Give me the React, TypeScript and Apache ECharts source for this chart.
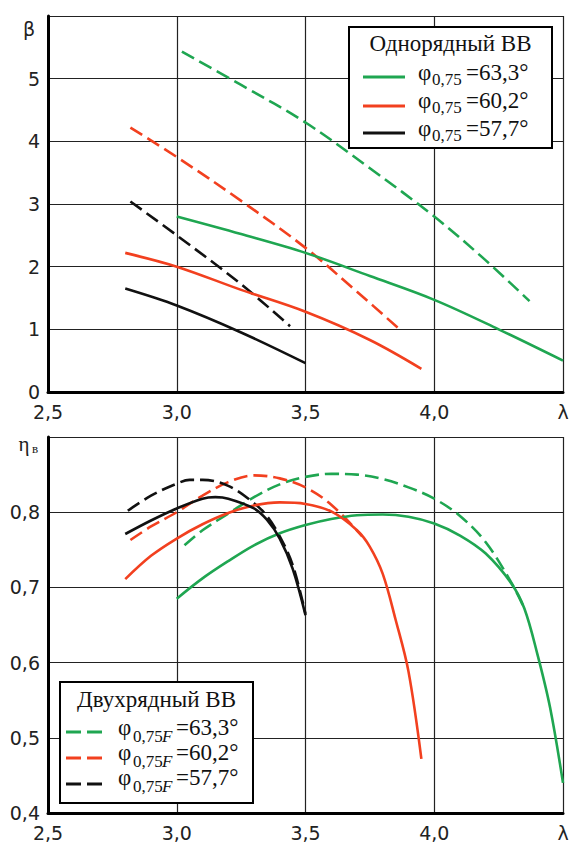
import React, { useEffect, useRef } from "react";
import * as echarts from "echarts";

// λ axis
const lambdaTicks = [2.5, 3.0, 3.5, 4.0, 4.5];
const betaTicks = [0, 1, 2, 3, 4, 5, 6];
const etaTicks = [0.4, 0.5, 0.6, 0.7, 0.8, 0.9];

// Top panel: β(λ) — solid = single-row, dashed = double-row
const betaGreenSolid: [number, number][] = [[3.0, 2.8], [3.25, 2.52], [3.5, 2.22], [3.75, 1.85], [4.0, 1.47], [4.25, 1.0], [4.5, 0.5]];
const betaRedSolid: [number, number][] = [[2.8, 2.22], [3.0, 2.0], [3.25, 1.63], [3.5, 1.28], [3.75, 0.83], [3.95, 0.37]];
const betaBlackSolid: [number, number][] = [[2.8, 1.65], [3.0, 1.38], [3.25, 0.95], [3.5, 0.46]];
const betaGreenDashed: [number, number][] = [[3.02, 5.43], [3.25, 4.9], [3.5, 4.3], [3.75, 3.57], [4.0, 2.8], [4.2, 2.1], [4.37, 1.45]];
const betaRedDashed: [number, number][] = [[2.82, 4.22], [3.0, 3.75], [3.25, 3.05], [3.5, 2.3], [3.7, 1.6], [3.86, 1.02]];
const betaBlackDashed: [number, number][] = [[2.82, 3.04], [3.0, 2.5], [3.25, 1.72], [3.44, 1.05]];

// Bottom panel: η_в(λ)
const etaGreenSolid: [number, number][] = [[3.0, 0.685], [3.1, 0.712], [3.2, 0.735], [3.3, 0.756], [3.4, 0.772], [3.5, 0.783], [3.6, 0.791], [3.7, 0.796], [3.8, 0.797], [3.9, 0.794], [4.0, 0.785], [4.1, 0.769], [4.2, 0.745], [4.3, 0.705], [4.35, 0.672], [4.4, 0.612], [4.45, 0.54], [4.5, 0.44]];
const etaRedSolid: [number, number][] = [[2.8, 0.711], [2.9, 0.742], [3.0, 0.765], [3.1, 0.784], [3.2, 0.799], [3.3, 0.809], [3.4, 0.813], [3.5, 0.811], [3.6, 0.801], [3.7, 0.776], [3.75, 0.754], [3.8, 0.718], [3.85, 0.657], [3.9, 0.588], [3.95, 0.472]];
const etaBlackSolid: [number, number][] = [[2.8, 0.771], [2.9, 0.789], [3.0, 0.805], [3.1, 0.818], [3.15, 0.82], [3.2, 0.818], [3.3, 0.805], [3.35, 0.79], [3.4, 0.765], [3.45, 0.725], [3.5, 0.663]];
const etaGreenDashed: [number, number][] = [[3.03, 0.756], [3.1, 0.776], [3.2, 0.798], [3.3, 0.82], [3.4, 0.837], [3.5, 0.847], [3.6, 0.851], [3.7, 0.85], [3.8, 0.844], [3.9, 0.833], [4.0, 0.818], [4.1, 0.795], [4.2, 0.76], [4.3, 0.706], [4.35, 0.672]];
const etaRedDashed: [number, number][] = [[2.82, 0.763], [2.9, 0.781], [3.0, 0.8], [3.1, 0.822], [3.2, 0.84], [3.3, 0.849], [3.4, 0.845], [3.5, 0.833], [3.6, 0.81], [3.72, 0.768]];
const etaBlackDashed: [number, number][] = [[2.81, 0.802], [2.9, 0.822], [3.0, 0.838], [3.05, 0.843], [3.1, 0.843], [3.2, 0.835], [3.3, 0.812], [3.35, 0.795], [3.4, 0.768], [3.45, 0.73], [3.5, 0.665]];

const legendTopTitle = "Однорядный ВВ";
const legendBottomTitle = "Двухрядный ВВ";
const legendValues = ["=63,3°", "=60,2°", "=57,7°"];

const GREEN = "#1fa651";
const RED = "#f2401f";
const BLACK = "#111111";
const colors = [GREEN, RED, BLACK];

const TICK_FONT = "DejaVu Sans";
const SERIF = "Liberation Serif";

const fmtNum = (v: number) => v.toFixed(1).replace(".", ",");

export default function App() {
  const ref = useRef<HTMLDivElement>(null);
  useEffect(() => {
    if (!ref.current) return;
    const chart = echarts.init(ref.current, undefined, { renderer: "svg" });

    const xAxisBase = (gridIndex: number) => ({
      type: "value" as const,
      gridIndex,
      min: lambdaTicks[0],
      max: lambdaTicks[lambdaTicks.length - 1],
      interval: 0.5,
      axisLine: { show: true, onZero: false, lineStyle: { color: "#000", width: 3 } },
      axisTick: { show: false },
      splitLine: { show: true, lineStyle: { color: "#222", width: 1.2 } },
      axisLabel: {
        color: "#222",
        fontFamily: TICK_FONT,
        fontSize: 19,
        margin: 10,
        showMaxLabel: true,
        showMinLabel: true,
        formatter: (v: number) => (Math.abs(v - 4.5) < 1e-6 ? "λ" : fmtNum(v)),
      },
    });

    const lineSeries = (data: [number, number][], color: string, dashed: boolean, idx: number) => ({
      type: "line" as const,
      xAxisIndex: idx,
      yAxisIndex: idx,
      data,
      showSymbol: false,
      smooth: 0.35,
      lineStyle: { color, width: 2.6, type: dashed ? [14, 6] : "solid" },
      z: dashed ? 3 : 4,
    });

    const txt = (x: number, y: number, text: string, font: string, align = "left", fill = "#111") => ({
      type: "text",
      x,
      y,
      style: { text, font, fill, align, verticalAlign: "middle" },
      z: 101,
    });

    const graphics: any[] = [];
    // axis names (β at top of upper panel, η_в at top of lower panel)
    graphics.push(txt(29, 29, "β", `19px '${TICK_FONT}'`, "center", "#222"));
    graphics.push(txt(24, 444, "η", `21px '${SERIF}'`, "center", "#222"));
    graphics.push(txt(35, 448, "в", `13px '${SERIF}'`, "center", "#222"));

    const MAIN = 23;
    const SUB = 17;
    const legend = (
      bx: number, by: number, bw: number, bh: number, title: string, titleY: number,
      lx1: number, lx2: number, lineYs: number[], baseYs: number[], subDy: number, dashed: boolean,
      phiX: number, subX: number, fX: number | null, eqX: number
    ) => {
      graphics.push({
        type: "rect",
        shape: { x: bx, y: by, width: bw, height: bh },
        style: { fill: "#fff", stroke: "#000", lineWidth: 2 },
        z: 100,
      });
      graphics.push(txt(bx + bw / 2, titleY, title, `${MAIN}px '${SERIF}'`, "center"));
      for (let i = 0; i < 3; i++) {
        graphics.push({
          type: "line",
          shape: { x1: lx1, y1: lineYs[i], x2: lx2, y2: lineYs[i] },
          style: { stroke: colors[i], lineWidth: 3, lineDash: dashed ? [15, 6] : null },
          z: 101,
        });
        const midMain = baseYs[i] - 0.3375 * MAIN;
        const midSub = baseYs[i] + subDy - 0.3375 * SUB;
        graphics.push(txt(phiX, midMain, "φ", `${MAIN}px '${SERIF}'`));
        graphics.push(txt(subX, midSub, "0,75", `${SUB}px '${SERIF}'`));
        if (fX !== null) graphics.push(txt(fX, midSub, "F", `italic ${SUB}px '${SERIF}'`));
        graphics.push(txt(eqX, midMain, legendValues[i], `${MAIN}px '${SERIF}'`));
      }
    };
    legend(349, 27, 203, 121, legendTopTitle, 43, 363, 405, [77, 106, 133], [80, 108.5, 136], 5, false, 418, 432, null, 466);
    legend(60, 682, 193, 121, legendBottomTitle, 699, 66, 108, [732, 758, 784], [735, 760, 785], 7, true, 118, 133, 162, 176);

    chart.setOption({
      animation: false,
      backgroundColor: "#fff",
      grid: [
        { left: 48, right: 8, top: 16, height: 376, outerBoundsMode: "none", containLabel: false },
        { left: 48, right: 8, top: 437, height: 376, outerBoundsMode: "none", containLabel: false },
      ],
      xAxis: [xAxisBase(0), xAxisBase(1)],
      yAxis: [
        {
          type: "value",
          gridIndex: 0,
          min: betaTicks[0],
          max: betaTicks[betaTicks.length - 1],
          interval: 1,
          axisLine: { show: true, onZero: false, lineStyle: { color: "#000", width: 3 } },
          axisTick: { show: false },
          splitLine: { show: true, lineStyle: { color: "#222", width: 1.2 } },
          axisLabel: {
            color: "#222",
            fontFamily: TICK_FONT,
            fontSize: 19,
            margin: 8,
            formatter: (v: number) => (v === 6 ? "" : String(v)),
          },
        },
        {
          type: "value",
          gridIndex: 1,
          min: etaTicks[0],
          max: etaTicks[etaTicks.length - 1],
          interval: 0.1,
          axisLine: { show: true, onZero: false, lineStyle: { color: "#000", width: 3 } },
          axisTick: { show: false },
          splitLine: { show: true, lineStyle: { color: "#222", width: 1.2 } },
          axisLabel: {
            color: "#222",
            fontFamily: TICK_FONT,
            fontSize: 19,
            margin: 8,
            formatter: (v: number) => (Math.abs(v - 0.9) < 1e-6 ? "" : fmtNum(v)),
          },
        },
      ],
      series: [
        lineSeries(betaGreenDashed, GREEN, true, 0),
        lineSeries(betaRedDashed, RED, true, 0),
        lineSeries(betaBlackDashed, BLACK, true, 0),
        lineSeries(betaGreenSolid, GREEN, false, 0),
        lineSeries(betaRedSolid, RED, false, 0),
        lineSeries(betaBlackSolid, BLACK, false, 0),
        lineSeries(etaGreenDashed, GREEN, true, 1),
        lineSeries(etaRedDashed, RED, true, 1),
        lineSeries(etaBlackDashed, BLACK, true, 1),
        lineSeries(etaGreenSolid, GREEN, false, 1),
        lineSeries(etaRedSolid, RED, false, 1),
        lineSeries(etaBlackSolid, BLACK, false, 1),
      ],
      graphic: graphics,
    });
    return () => chart.dispose();
  }, []);
  return (
    <div
      ref={ref}
      style={{ position: "absolute", left: 0, top: 0, width: 571, height: 844, background: "#fff" }}
    />
  );
}
